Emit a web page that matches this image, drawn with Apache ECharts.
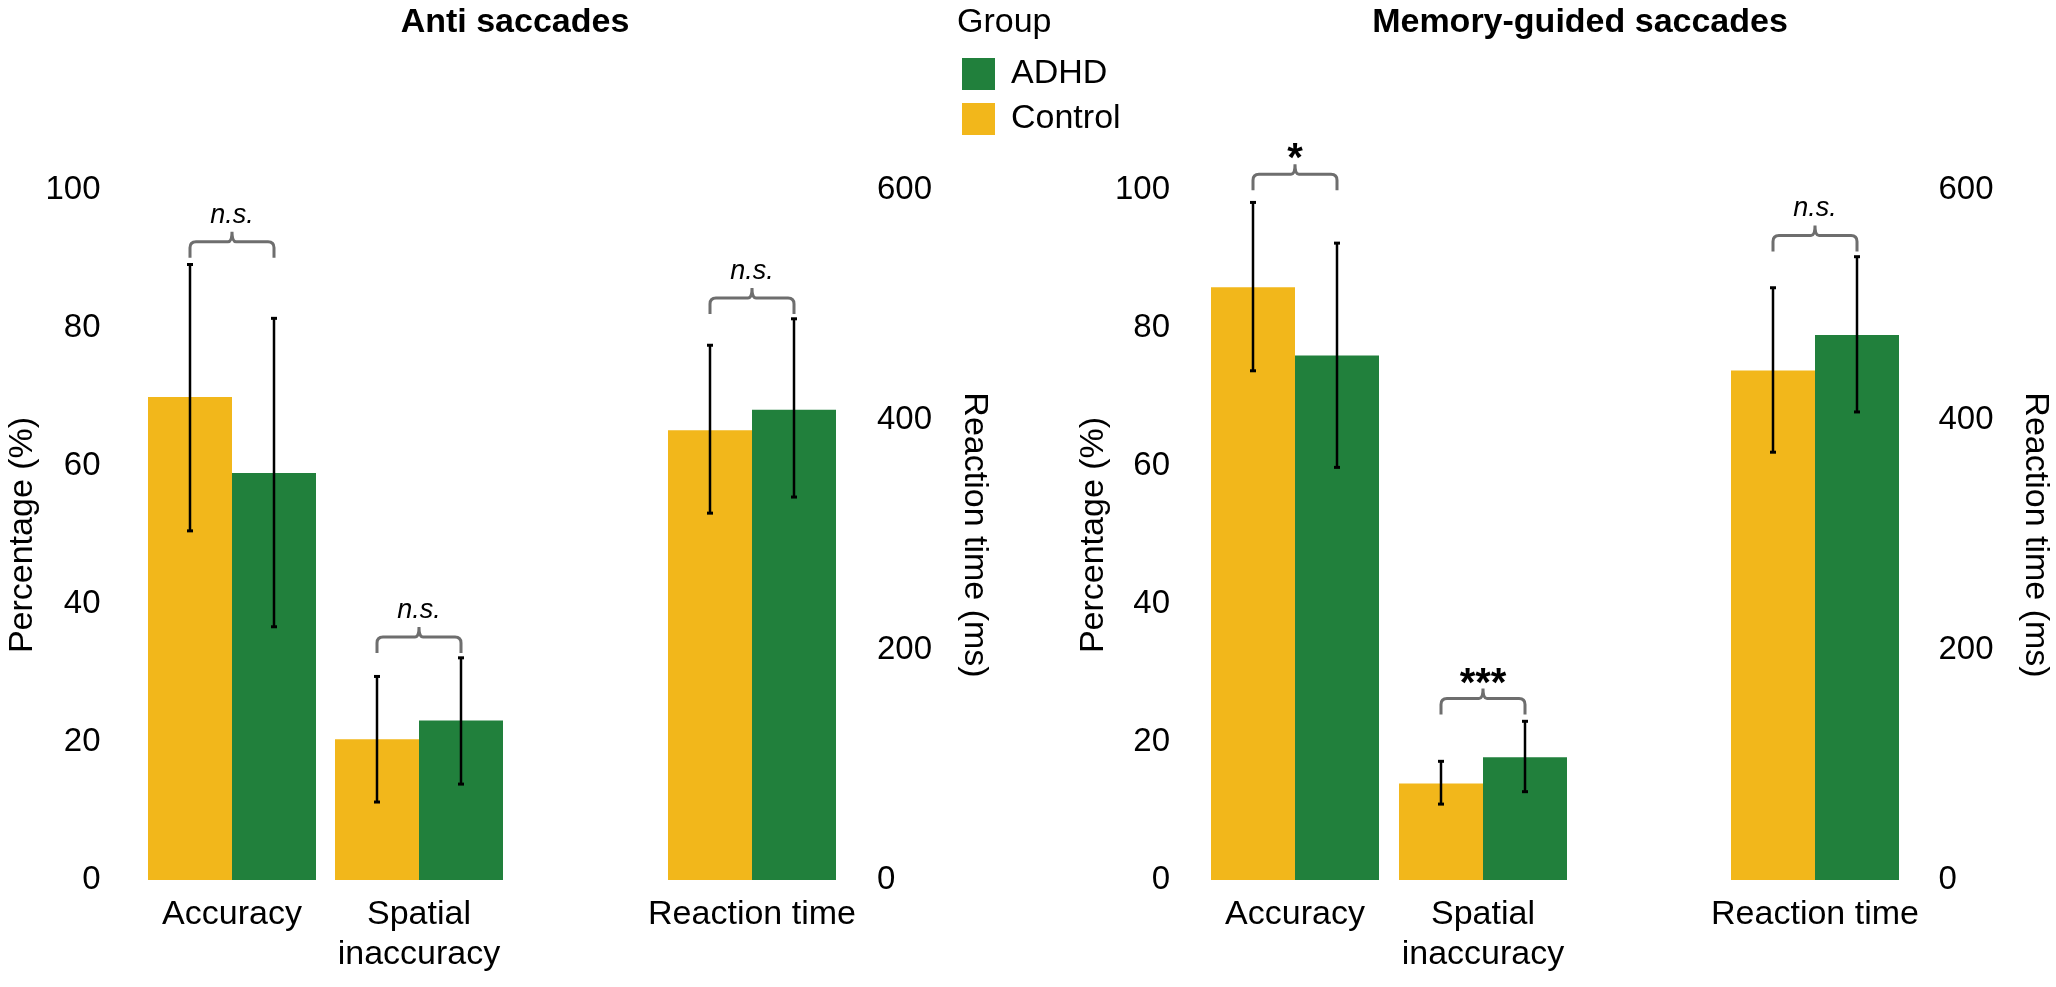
<!DOCTYPE html>
<html><head><meta charset="utf-8">
<script src="https://cdn.jsdelivr.net/npm/echarts@6/dist/echarts.min.js"></script>
<style>html,body{margin:0;padding:0;background:#fff}#c{width:2056px;height:987px}</style>
</head><body><div id="c"></div>
<script>
// ---------- data ----------
const groupNames = ['ADHD', 'Control'];
const legendTitle = 'Group';
const panelTitles = ['Anti saccades', 'Memory-guided saccades'];
const pctCategories = ['Accuracy', 'Spatial\ninaccuracy'];
const rtCategories = ['Reaction time'];
const pctAxisName = 'Percentage (%)';
const rtAxisName = 'Reaction time (ms)';

// Anti saccades
const antiControl = [70.0, 20.4];
const antiADHD = [59.0, 23.1];
const antiControlErr = [[50.6, 89.2], [11.3, 29.5]];
const antiADHDErr = [[36.7, 81.4], [13.9, 32.2]];
const antiRTControl = [391];
const antiRTADHD = [409];
const antiRTControlErr = [[319, 465]];
const antiRTADHDErr = [[333, 488]];
const antiSig = [[92.5, 'n.s.'], [35.2, 'n.s.']];
const antiRTSig = [[506, 'n.s.']];

// Memory-guided saccades
const memControl = [85.9, 14.0];
const memADHD = [76.0, 17.8];
const memControlErr = [[73.8, 98.2], [11.0, 17.2]];
const memADHDErr = [[59.8, 92.3], [12.8, 23.0]];
const memRTControl = [443];
const memRTADHD = [474];
const memRTControlErr = [[372, 515]];
const memRTADHDErr = [[407, 542]];
const memSig = [[102.3, '*'], [26.3, '***']];
const memRTSig = [[560.5, 'n.s.']];

// ---------- style ----------
const FONT = '"Liberation Sans", Arial, sans-serif';
const C_CONTROL = '#F2B71B';
const C_ADHD = '#21803C';
const BAR_W = 84;
const TOP = 190, BOTTOM = 107;

const chart = echarts.init(document.getElementById('c'));

function errRender(params, api) {
  const c = api.value(0), side = api.value(3);
  const p1 = api.coord([c, api.value(1)]);
  const p2 = api.coord([c, api.value(2)]);
  const x = p1[0] + side * BAR_W / 2;
  return { type: 'group', children: [
    { type: 'line', shape: { x1: x, y1: p1[1], x2: x, y2: p2[1] }, style: { stroke: '#000', lineWidth: 2.5 } },
    { type: 'line', shape: { x1: x - 3, y1: p1[1], x2: x + 3, y2: p1[1] }, style: { stroke: '#000', lineWidth: 3 } },
    { type: 'line', shape: { x1: x - 3, y1: p2[1], x2: x + 3, y2: p2[1] }, style: { stroke: '#000', lineWidth: 3 } }
  ]};
}

function bracketRender(sig) {
  return function (params, api) {
    const c = api.value(0);
    const p = api.coord([c, api.value(1)]);
    const xl = p[0] - BAR_W / 2, xr = p[0] + BAR_W / 2, y = p[1];
    const arm = 16, tick = 10, r = 6;
    const d = 'M' + xl + ' ' + (y + arm) + ' L' + xl + ' ' + (y + r) +
      ' Q' + xl + ' ' + y + ' ' + (xl + r) + ' ' + y +
      ' L' + (p[0] - 4) + ' ' + y + ' Q' + p[0] + ' ' + y + ' ' + p[0] + ' ' + (y - tick) +
      ' Q' + p[0] + ' ' + y + ' ' + (p[0] + 4) + ' ' + y +
      ' L' + (xr - r) + ' ' + y + ' Q' + xr + ' ' + y + ' ' + xr + ' ' + (y + r) +
      ' L' + xr + ' ' + (y + arm);
    const label = sig[params.dataIndex][1];
    const star = label.indexOf('*') >= 0;
    return { type: 'group', children: [
      { type: 'path', shape: { pathData: d }, style: { stroke: '#6e6e6e', lineWidth: 3, fill: null } },
      { type: 'text', x: p[0], y: star ? (y - tick - 4) : (y - tick - 3),
        style: { text: label, align: 'center', verticalAlign: star ? 'middle' : 'bottom',
          font: star ? ('bold 40px ' + FONT) : ('italic 27px ' + FONT), fill: '#000' } }
    ]};
  };
}

function errData(ctrlErr, adhdErr) {
  const out = [];
  ctrlErr.forEach((e, i) => out.push([i, e[0], e[1], -1]));
  adhdErr.forEach((e, i) => out.push([i, e[0], e[1], 1]));
  return out;
}

const grids = [
  { left: 138.5, width: 374, top: TOP, bottom: BOTTOM },
  { left: 658.5, width: 187, top: TOP, bottom: BOTTOM },
  { left: 1201, width: 376, top: TOP, bottom: BOTTOM },
  { left: 1721.5, width: 187, top: TOP, bottom: BOTTOM }
];

function xAx(i, cats) {
  return { type: 'category', gridIndex: i, data: cats,
    axisLine: { show: false }, axisTick: { show: false },
    axisLabel: { fontSize: 34, fontFamily: FONT, color: '#000', margin: 15, lineHeight: 40, interval: 0 } };
}
function pctAx(i, gapLabel, gapName) {
  return { type: 'value', gridIndex: i, position: 'left', min: 0, max: 100, interval: 20,
    axisLine: { show: false }, axisTick: { show: false }, splitLine: { show: false },
    axisLabel: { fontSize: 33, fontFamily: FONT, color: '#000', margin: gapLabel },
    name: pctAxisName, nameLocation: 'middle', nameGap: gapName,
    nameTextStyle: { fontSize: 34, fontFamily: FONT, color: '#000' } };
}
function rtAx(i, gapLabel, gapName) {
  return { type: 'value', gridIndex: i, position: 'right', min: 0, max: 600, interval: 200,
    axisLine: { show: false }, axisTick: { show: false }, splitLine: { show: false },
    axisLabel: { fontSize: 33, fontFamily: FONT, color: '#000', margin: gapLabel },
    name: rtAxisName, nameLocation: 'middle', nameGap: gapName, nameRotate: -90,
    nameTextStyle: { fontSize: 34, fontFamily: FONT, color: '#000' } };
}

function bars(i, ctrl, adhd) {
  return [
    { type: 'bar', name: 'Control', xAxisIndex: i, yAxisIndex: i, data: ctrl, barWidth: BAR_W, barGap: '0%',
      itemStyle: { color: C_CONTROL }, silent: true, z: 2 },
    { type: 'bar', name: 'ADHD', xAxisIndex: i, yAxisIndex: i, data: adhd, barWidth: BAR_W, barGap: '0%',
      itemStyle: { color: C_ADHD }, silent: true, z: 2 }
  ];
}
function errs(i, ce, ae) {
  return { type: 'custom', xAxisIndex: i, yAxisIndex: i, renderItem: errRender, data: errData(ce, ae), z: 5, silent: true, clip: false };
}
function brackets(i, sig) {
  return { type: 'custom', xAxisIndex: i, yAxisIndex: i, renderItem: bracketRender(sig),
    data: sig.map((s, k) => [k, s[0]]), z: 5, silent: true, clip: false };
}

const option = {
  backgroundColor: '#fff',
  animation: false,
  textStyle: { fontFamily: FONT },
  grid: grids,
  xAxis: [xAx(0, pctCategories), xAx(1, rtCategories), xAx(2, pctCategories), xAx(3, rtCategories)],
  yAxis: [pctAx(0, 38, 99), rtAx(1, 31.5, 112), pctAx(2, 31, 88), rtAx(3, 30, 110)],
  legend: {
    data: groupNames, orient: 'vertical', left: 957, top: 52, itemWidth: 33, itemHeight: 32, itemGap: 11,
    icon: 'rect', selectedMode: false,
    textStyle: { fontSize: 34, fontFamily: FONT, color: '#000', padding: [0, 0, 0, 11] }
  },
  graphic: [
    { type: 'text', x: 515, y: 23, style: { text: panelTitles[0], align: 'center', verticalAlign: 'middle', font: 'bold 34px ' + FONT, fill: '#000' } },
    { type: 'text', x: 1580, y: 23, style: { text: panelTitles[1], align: 'center', verticalAlign: 'middle', font: 'bold 34px ' + FONT, fill: '#000' } },
    { type: 'text', x: 957, y: 23, style: { text: legendTitle, align: 'left', verticalAlign: 'middle', font: '34px ' + FONT, fill: '#000' } }
  ],
  series: [].concat(
    bars(0, antiControl, antiADHD), [errs(0, antiControlErr, antiADHDErr), brackets(0, antiSig)],
    bars(1, antiRTControl, antiRTADHD), [errs(1, antiRTControlErr, antiRTADHDErr), brackets(1, antiRTSig)],
    bars(2, memControl, memADHD), [errs(2, memControlErr, memADHDErr), brackets(2, memSig)],
    bars(3, memRTControl, memRTADHD), [errs(3, memRTControlErr, memRTADHDErr), brackets(3, memRTSig)]
  )
};
chart.setOption(option);
</script></body></html>
